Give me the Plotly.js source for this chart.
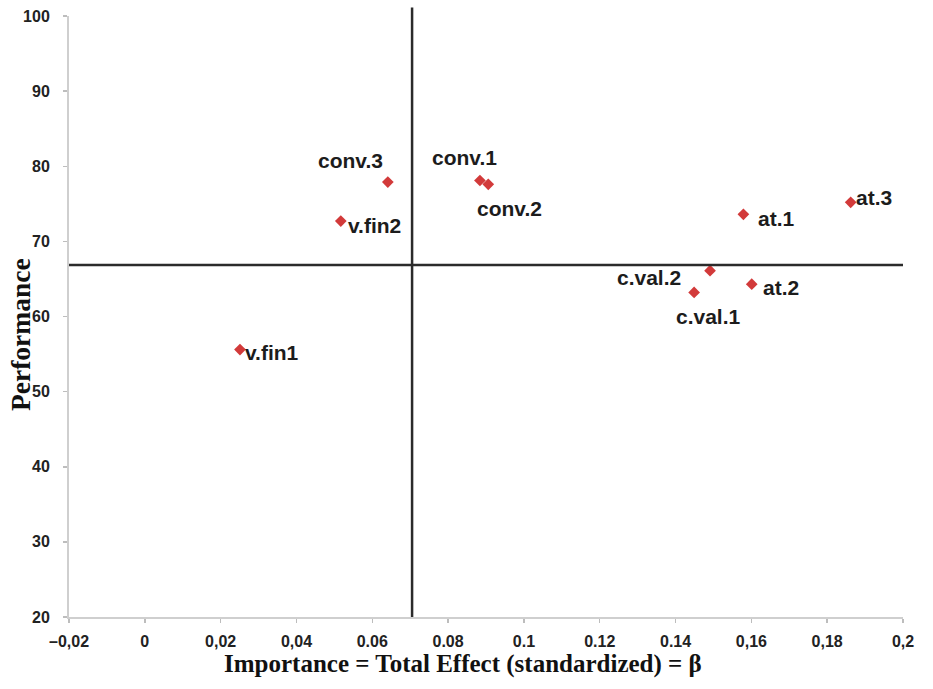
<!DOCTYPE html>
<html>
<head>
<meta charset="utf-8">
<script src="https://cdn.plot.ly/plotly-3.0.1.min.js"></script>
<style>html,body{margin:0;padding:0;background:#fff;}#chart{width:933px;height:689px;}</style>
</head>
<body>
<div id="chart"></div>
<script>
// Data
var labels = ["conv.3", "v.fin2", "conv.1", "conv.2", "at.1", "at.3", "c.val.2", "c.val.1", "at.2", "v.fin1"];
var importance = [0.0641, 0.0517, 0.0884, 0.0906, 0.1579, 0.1862, 0.1491, 0.1449, 0.1601, 0.0251];
var performance = [77.9, 72.7, 78.1, 77.6, 73.6, 75.2, 66.1, 63.2, 64.3, 55.6];
var importanceThreshold = 0.0705;
var performanceThreshold = 66.85;
var xTickVals = [-0.02, 0, 0.02, 0.04, 0.06, 0.08, 0.1, 0.12, 0.14, 0.16, 0.18, 0.2];
var xTickText = ["\u20130,02", "0", "0,02", "0,04", "0.06", "0.08", "0.1", "0.12", "0.14", "0,16", "0,18", "0,2"];
var yTickVals = [20, 30, 40, 50, 60, 70, 80, 90, 100];

// Label offsets in pixels (styling)
var labelShift = [[-37, 22], [34, -4], [-15, 23], [21, -24], [33, -4], [23, 5], [-61, -7], [14, -24], [29, -3], [32, -3]];

var trace = {
  x: importance,
  y: performance,
  mode: "markers",
  type: "scatter",
  marker: {symbol: "diamond", size: 9, color: "#d23a3a"},
  hoverinfo: "skip"
};

var annotations = labels.map(function (t, i) {
  return {
    x: importance[i], y: performance[i], xref: "x", yref: "y",
    text: t, showarrow: false,
    xshift: labelShift[i][0], yshift: labelShift[i][1],
    font: {family: "Liberation Sans, Arial, sans-serif", size: 21, color: "#1c1c1c", weight: "bold"}
  };
});

annotations.push({
  xref: "paper", yref: "paper", x: (462.5 - 69) / 834, y: -(664 - 617) / 601,
  text: "<b>Importance = Total Effect (standardized) = \u03b2</b>", showarrow: false,
  xanchor: "center", yanchor: "middle",
  font: {family: "Liberation Serif, Times New Roman, serif", size: 25, color: "#111"}
});
annotations.push({
  xref: "paper", yref: "paper", x: -(69 - 20) / 834, y: (617 - 335) / 601,
  text: "<b>Performance</b>", showarrow: false, textangle: -90,
  xanchor: "center", yanchor: "middle",
  font: {family: "Liberation Serif, Times New Roman, serif", size: 27.5, color: "#111"}
});

var tickFont = {family: "Liberation Sans, Arial, sans-serif", size: 16, color: "#222", weight: "bold"};

var layout = {
  width: 933, height: 689,
  margin: {l: 69, r: 30, t: 16, b: 72},
  paper_bgcolor: "#fff", plot_bgcolor: "#fff",
  showlegend: false,
  xaxis: {
    range: [-0.02, 0.2], tickvals: xTickVals, ticktext: xTickText,
    showgrid: false, zeroline: false, showline: true, linecolor: "#cfcfcf", linewidth: 2,
    ticks: "outside", ticklen: 4, tickcolor: "#bdbdbd", tickwidth: 1.5,
    tickfont: tickFont, ticklabelstandoff: 5
  },
  yaxis: {
    range: [20, 100], tickvals: yTickVals,
    showgrid: false, zeroline: false, showline: true, linecolor: "#cfcfcf", linewidth: 2,
    ticks: "outside", ticklen: 4, tickcolor: "#bdbdbd", tickwidth: 1.5,
    tickfont: tickFont, ticklabelstandoff: 10
  },
  shapes: [
    {type: "line", xref: "x", yref: "paper", x0: importanceThreshold, x1: importanceThreshold, y0: 0, y1: 1.014,
     line: {color: "#2b2b2b", width: 2.5}},
    {type: "line", xref: "x", yref: "y", x0: -0.02, x1: 0.2008, y0: performanceThreshold, y1: performanceThreshold,
     line: {color: "#2b2b2b", width: 2.5}}
  ],
  annotations: annotations
};

Plotly.newPlot("chart", [trace], layout, {displayModeBar: false, staticPlot: true});
</script>
</body>
</html>
